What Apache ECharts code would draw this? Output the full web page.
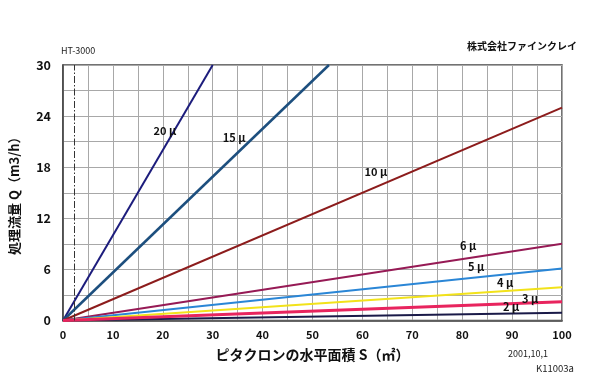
<!DOCTYPE html>
<html><head><meta charset="utf-8">
<script src="https://cdn.jsdelivr.net/npm/echarts@6/dist/echarts.min.js"></script>
<style>html,body{margin:0;padding:0;background:#fff;}#c{width:600px;height:391px;}</style>
</head><body><div id="c"></div>
<script>
// Series: end points of each straight line from origin (S, Q)
const seriesNames = ['20μ','15μ','10μ','6μ','5μ','4μ','3μ','2μ'];
const endS = [30, 53.3, 100, 100, 100, 100, 100, 100];
const endQ = [30, 30, 25, 9, 6.1, 3.9, 2.2, 0.9];
const xTicks = [0,10,20,30,40,50,60,70,80,90,100];
const yTicks = [0,6,12,18,24,30];
const htS = 2.3;

const colors = ['#1c1c7c','#1d4f7e','#8c1c1c','#961a55','#2a86d6','#f2e21a','#e8245e','#1a1a48'];
const widths = [2,2.5,2,2,2,2,3,2];
// label anchors (S, Q)
const lab = [
  {s:20.4,q:22.3},{s:34.3,q:21.4},{s:62.7,q:17.5},{s:81.2,q:8.8},
  {s:82.8,q:6.3},{s:88.6,q:4.4},{s:93.6,q:2.6},{s:89.8,q:1.6}
];
const FONT = '"Noto Sans CJK JP", "Noto Sans", sans-serif';

const series = seriesNames.map((n,i)=>({
  type:'line', name:n, showSymbol:false, symbol:'none', silent:true,
  data:[[0,0],[endS[i],endQ[i]]],
  lineStyle:{color:colors[i], width:widths[i]},
  z: 3 + (i===6?1:0),
  markPoint:{
    symbol:'circle', symbolSize:1, itemStyle:{color:'rgba(0,0,0,0)'},
    label:{show:true, formatter:n.replace('μ',' μ'), color:'#111', fontWeight:'bold', fontSize:11, fontFamily:FONT, position:'inside'},
    data:[{coord:[lab[i].s, lab[i].q]}]
  }
}));

series.push({
  type:'line', data:[], markLine:{
    silent:true, symbol:'none', label:{show:false},
    lineStyle:{color:'#333', type:[7,2,1.5,2], width:1},
    data:[{xAxis:htS}]
  }
});

const chart = echarts.init(document.getElementById('c'), null, {renderer:'canvas'});
chart.setOption({
  animation:false,
  backgroundColor:'#fff',
  grid:{left:61, right:38, top:65, bottom:70.5, show:true, borderColor:'#444', borderWidth:1.5, containLabel:false},
  xAxis:{type:'value', min:0, max:100, interval:5,
    axisLine:{show:true, lineStyle:{color:'#444', width:1.5}}, axisTick:{show:false},
    splitLine:{show:true, lineStyle:{color:'#a8a8a8', width:1}},
    axisLabel:{color:'#111', fontWeight:'bold', fontSize:11, fontFamily:FONT, margin:9,
      formatter:v=> xTicks.indexOf(v)>=0 ? String(v) : ''},
    name:'ピタクロンの水平面積 S（㎡）', nameLocation:'middle', nameGap:27,
    nameTextStyle:{color:'#111', fontWeight:'bold', fontSize:14, fontFamily:FONT}
  },
  yAxis:{type:'value', min:0, max:30, interval:3,
    axisLine:{show:true, lineStyle:{color:'#444', width:1.5}}, axisTick:{show:false},
    splitLine:{show:true, lineStyle:{color:'#a8a8a8', width:1}},
    axisLabel:{color:'#111', fontWeight:'bold', fontSize:12.5, fontFamily:FONT, margin:12,
      formatter:v=> yTicks.indexOf(v)>=0 ? String(v) : ''},
    name:'処理流量 Q（m3/h）', nameLocation:'middle', nameGap:42, nameRotate:90,
    nameTextStyle:{color:'#111', fontWeight:'bold', fontSize:13, fontFamily:FONT}
  },
  graphic:[
    {type:'text', left:467, top:41, style:{text:'株式会社ファインクレイ', fill:'#111', font:'bold 10px '+FONT}},
    {type:'text', left:61, top:46, style:{text:'HT-3000', fill:'#222', font:'9px '+FONT}},
    {type:'text', left:508, top:349, style:{text:'2001,10,1', fill:'#222', font:'9px '+FONT}},
    {type:'text', left:536, top:364, style:{text:'K11003a', fill:'#222', font:'9.5px '+FONT}}
  ],
  series:series
});
</script></body></html>
